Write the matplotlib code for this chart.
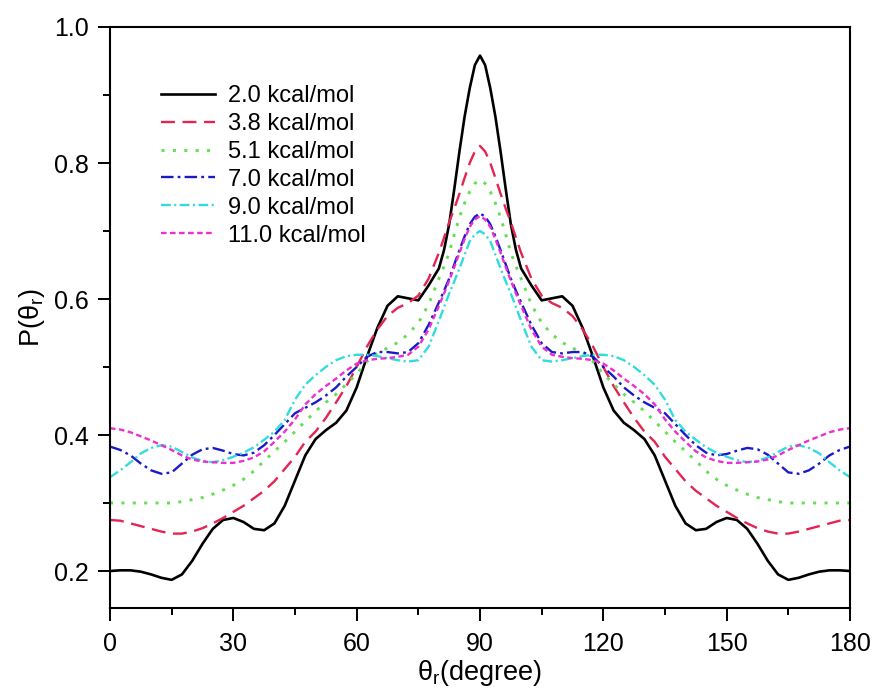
import numpy as np
import matplotlib
matplotlib.use("Agg")
import matplotlib.pyplot as plt
from matplotlib.ticker import MultipleLocator

plt.rcParams['font.family'] = ['Liberation Sans', 'DejaVu Sans']
plt.rcParams['mathtext.fontset'] = 'custom'
plt.rcParams['mathtext.rm'] = 'Liberation Sans'
plt.rcParams['mathtext.it'] = 'Liberation Sans:italic'
plt.rcParams['lines.scale_dashes'] = False

# angle grid (degrees): finer sampling around the central peak
theta = np.r_[np.arange(0, 80, 2.5), np.arange(80, 100, 1.25), np.arange(100, 180.01, 2.5)]

labels = ["2.0 kcal/mol", "3.8 kcal/mol", "5.1 kcal/mol",
          "7.0 kcal/mol", "9.0 kcal/mol", "11.0 kcal/mol"]

p_2_0 = [0.200, 0.201, 0.201, 0.199, 0.195, 0.190, 0.187, 0.195, 0.215, 0.240,
         0.262, 0.275, 0.278, 0.272, 0.262, 0.260, 0.270, 0.296, 0.333, 0.370,
         0.394, 0.407, 0.418, 0.436, 0.470, 0.515, 0.557, 0.590, 0.604, 0.601,
         0.598, 0.620,
         0.645, 0.672, 0.710, 0.762, 0.817, 0.868, 0.910, 0.944, 0.958, 0.944,
         0.910, 0.868, 0.817, 0.762, 0.710, 0.672,
         0.645, 0.620, 0.598, 0.601, 0.604, 0.590, 0.557, 0.515, 0.470, 0.436,
         0.418, 0.407, 0.394, 0.370, 0.333, 0.296, 0.270, 0.260, 0.262, 0.272,
         0.278, 0.275, 0.262, 0.240, 0.215, 0.195, 0.187, 0.190, 0.195, 0.199,
         0.201, 0.201, 0.200]

p_3_8 = [0.275, 0.274, 0.270, 0.266, 0.262, 0.258, 0.255, 0.255, 0.258, 0.263,
         0.270, 0.278, 0.287, 0.296, 0.307, 0.318, 0.332, 0.350, 0.368, 0.390,
         0.405, 0.425, 0.448, 0.472, 0.500, 0.530, 0.555, 0.575, 0.587, 0.594,
         0.605, 0.630,
         0.668, 0.690, 0.713, 0.733, 0.755, 0.778, 0.800, 0.817, 0.825, 0.817,
         0.800, 0.778, 0.755, 0.733, 0.713, 0.690,
         0.668, 0.630, 0.605, 0.594, 0.587, 0.575, 0.555, 0.530, 0.500, 0.472,
         0.448, 0.425, 0.405, 0.390, 0.368, 0.350, 0.332, 0.318, 0.307, 0.296,
         0.287, 0.278, 0.270, 0.263, 0.258, 0.255, 0.255, 0.258, 0.262, 0.266,
         0.270, 0.274, 0.275]

p_5_1 = [0.300, 0.300, 0.300, 0.300, 0.300, 0.300, 0.300, 0.302, 0.305, 0.308,
         0.313, 0.319, 0.326, 0.335, 0.347, 0.362, 0.376, 0.390, 0.405, 0.420,
         0.435, 0.448, 0.460, 0.475, 0.490, 0.508, 0.520, 0.528, 0.536, 0.548,
         0.565, 0.592,
         0.630, 0.648, 0.668, 0.695, 0.720, 0.741, 0.758, 0.770, 0.775, 0.770,
         0.758, 0.741, 0.720, 0.695, 0.668, 0.648,
         0.630, 0.592, 0.565, 0.548, 0.536, 0.528, 0.520, 0.508, 0.490, 0.475,
         0.460, 0.448, 0.435, 0.420, 0.405, 0.390, 0.376, 0.362, 0.347, 0.335,
         0.326, 0.319, 0.313, 0.308, 0.305, 0.302, 0.300, 0.300, 0.300, 0.300,
         0.300, 0.300, 0.300]

p_7_0 = [0.383, 0.378, 0.370, 0.358, 0.348, 0.343, 0.345, 0.358, 0.371, 0.379,
         0.381, 0.377, 0.372, 0.370, 0.374, 0.385, 0.400, 0.416, 0.432, 0.440,
         0.448, 0.458, 0.470, 0.486, 0.500, 0.515, 0.522, 0.522, 0.520, 0.522,
         0.535, 0.562,
         0.595, 0.612, 0.630, 0.651, 0.672, 0.692, 0.710, 0.721, 0.726, 0.721,
         0.710, 0.692, 0.672, 0.651, 0.630, 0.612,
         0.595, 0.562, 0.535, 0.522, 0.520, 0.522, 0.522, 0.515, 0.500, 0.486,
         0.470, 0.458, 0.448, 0.440, 0.432, 0.416, 0.400, 0.385, 0.374, 0.370,
         0.372, 0.377, 0.381, 0.379, 0.371, 0.358, 0.345, 0.343, 0.348, 0.358,
         0.370, 0.378, 0.383]

p_9_0 = [0.338, 0.348, 0.360, 0.373, 0.381, 0.385, 0.383, 0.375, 0.367, 0.362,
         0.360, 0.363, 0.368, 0.374, 0.382, 0.393, 0.405, 0.422, 0.452, 0.474,
         0.488, 0.500, 0.510, 0.516, 0.518, 0.518, 0.516, 0.513, 0.510, 0.508,
         0.510, 0.530,
         0.568, 0.588, 0.608, 0.626, 0.645, 0.665, 0.685, 0.695, 0.700, 0.695,
         0.685, 0.665, 0.645, 0.626, 0.608, 0.588,
         0.568, 0.530, 0.510, 0.508, 0.510, 0.513, 0.516, 0.518, 0.518, 0.516,
         0.510, 0.500, 0.488, 0.474, 0.452, 0.422, 0.405, 0.393, 0.382, 0.374,
         0.368, 0.363, 0.360, 0.362, 0.367, 0.375, 0.383, 0.385, 0.381, 0.373,
         0.360, 0.348, 0.338]

p_11_0 = [0.410, 0.408, 0.404, 0.398, 0.392, 0.385, 0.378, 0.370, 0.364, 0.361,
          0.360, 0.359, 0.359, 0.362, 0.367, 0.376, 0.390, 0.405, 0.423, 0.445,
          0.460, 0.472, 0.483, 0.495, 0.505, 0.510, 0.512, 0.513, 0.515, 0.518,
          0.530, 0.555,
          0.590, 0.608, 0.627, 0.647, 0.668, 0.688, 0.706, 0.717, 0.722, 0.717,
          0.706, 0.688, 0.668, 0.647, 0.627, 0.608,
          0.590, 0.555, 0.530, 0.518, 0.515, 0.513, 0.512, 0.510, 0.505, 0.495,
          0.483, 0.472, 0.460, 0.445, 0.423, 0.405, 0.390, 0.376, 0.367, 0.362,
          0.359, 0.359, 0.360, 0.361, 0.364, 0.370, 0.378, 0.385, 0.392, 0.398,
          0.404, 0.408, 0.410]

x_ticks = [0, 30, 60, 90, 120, 150, 180]
y_ticks = [0.2, 0.4, 0.6, 0.8, 1.0]

series = [p_2_0, p_3_8, p_5_1, p_7_0, p_9_0, p_11_0]
for s in series:
    if len(s) != len(theta):
        raise ValueError("length mismatch %d vs %d" % (len(s), len(theta)))

styles = [
    dict(color='black', lw=1.9, ls='-'),
    dict(color='#e22552', lw=1.7, dashes=(10, 5.5)),
    dict(color='#66dd55', lw=2.1, dashes=(2.2, 6.0)),
    dict(color='#1a1ac8', lw=1.7, dashes=(9, 3, 2, 3)),
    dict(color='#30dcdc', lw=1.7, dashes=(7, 2.5, 1.5, 2.5)),
    dict(color='#ec2fcf', lw=1.7, dashes=(4, 2.5)),
]

fig = plt.figure(figsize=(8.76, 6.88), dpi=100)
ax = fig.add_axes([110 / 876, 1 - 608 / 688, 740 / 876, 581 / 688])

for s, lab, st in zip(series, labels, styles):
    ax.plot(theta, s, label=lab, **st)

ax.set_xlim(0, 180)
ax.set_ylim(0.1456, 1.0)
ax.set_xticks(x_ticks)
ax.set_yticks(y_ticks)
ax.set_yticklabels(["%.1f" % v for v in y_ticks])
ax.xaxis.set_minor_locator(MultipleLocator(15))
ax.yaxis.set_minor_locator(MultipleLocator(0.1))
ax.tick_params(which='major', direction='out', length=9, width=1.4,
               labelsize=18, pad=6)
ax.tick_params(axis='x', which='major', pad=8)
ax.tick_params(which='minor', direction='out', length=5, width=1.4)
ax.tick_params(top=False, right=False)
for sp in ax.spines.values():
    sp.set_linewidth(1.5)

ax.set_xlabel(r'$\mathrm{\theta_r}$(degree)', fontsize=19.5, labelpad=2)
ax.set_ylabel(r'P($\mathrm{\theta_r}$)', fontsize=19.5, labelpad=5)

leg = ax.legend(loc='upper left', bbox_to_anchor=((161 - 110) / 740, 1 - (85 - 27) / 581),
                frameon=False, fontsize=17, borderpad=0, borderaxespad=0,
                handlelength=2.3, handletextpad=0.55, labelspacing=0.25)

fig.savefig("out.png", dpi=100)
